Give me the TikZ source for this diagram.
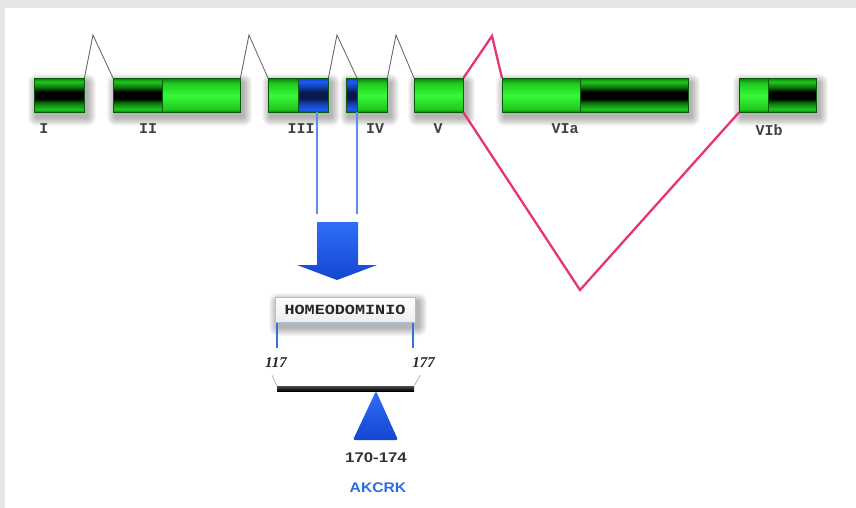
\documentclass[tikz,border=0pt]{standalone}
\usepackage{fontspec}
\setmainfont{Liberation Serif}
\newfontfamily\exfont{Liberation Mono}
\newfontfamily\boxfont{Liberation Mono}[FakeStretch=1.2]
\newfontfamily\numfont{Liberation Serif}
\newfontfamily\widefont{Liberation Sans}[FakeStretch=1.2]
\newfontfamily\seqfont{Liberation Sans}[FakeStretch=1.12]

% palette
\definecolor{gE}{HTML}{0B7A0B}
\definecolor{gL}{HTML}{1EC81E}
\definecolor{gM}{HTML}{38F838}
\definecolor{gD}{HTML}{0C7A0C}
\definecolor{bE}{HTML}{1040C0}
\definecolor{bL}{HTML}{1A5CF5}
\definecolor{bD}{HTML}{1040B0}
\definecolor{bK}{HTML}{0A1A50}
\definecolor{exedge}{HTML}{0A5A0A}
\definecolor{pinkline}{HTML}{E8337A}
\definecolor{thinblue}{HTML}{5A8CE8}
\definecolor{postblue}{HTML}{3A6FE0}
\definecolor{arrowtop}{HTML}{2F6EF5}
\definecolor{arrowbot}{HTML}{1446D0}
\definecolor{boxedge}{HTML}{A9BFE0}
\definecolor{seqblue}{HTML}{2D6BE0}
\definecolor{framegray}{HTML}{E6E6E6}

% exon fills: bright green, green with a dark core, blue with a dark core
\pgfdeclareverticalshading{shLight}{100bp}{color(0bp)=(gE); color(25bp)=(gE); color(29bp)=(gL); color(50bp)=(gM); color(68bp)=(gL); color(75bp)=(gE); color(100bp)=(gE)}
\pgfdeclareverticalshading{shDark}{100bp}{color(0bp)=(gE); color(25bp)=(gE); color(29bp)=(gL); color(38bp)=(gD); color(45bp)=(black); color(55bp)=(black); color(62bp)=(gD); color(70bp)=(gL); color(75bp)=(gE); color(100bp)=(gE)}
\pgfdeclareverticalshading{shBlue}{100bp}{color(0bp)=(bE); color(25bp)=(bE); color(29bp)=(bL); color(38bp)=(bD); color(45bp)=(bK); color(55bp)=(bK); color(62bp)=(bD); color(70bp)=(bL); color(75bp)=(bE); color(100bp)=(bE)}

% soft drop shadow: stacked translucent rectangles, offset right and down
\newcommand{\softshadow}[4]{%
  \foreach \k in {1,...,9}{%
    \fill[black, opacity=0.035, rounded corners=\k pt]
      (#1+3-\k,#2+5-\k) rectangle (#3+3+\k,#4+5+\k);
  }}

\tikzset{
  exbase/.style={rectangle, inner sep=0pt, minimum height=34pt, anchor=north west,
                 draw=exedge, line width=0.4pt},
  exlight/.style={exbase, shading=shLight},
  exdark/.style={exbase, shading=shDark},
  exblue/.style={exbase, shading=shBlue},
  exlabel/.style={font=\exfont\bfseries\fontsize{15}{15}\selectfont, text=black!75, inner sep=0pt},
  intron/.style={draw=gray!75!black, line width=0.8pt, line join=miter},
  splice/.style={draw=pinkline, line width=2.3pt, line join=miter},
  guide/.style={draw=thinblue, line width=1.4pt},
  post/.style={draw=postblue, line width=2pt},
  leader/.style={draw=gray!70, line width=0.6pt},
  hdbox/.style={rectangle, minimum width=140pt, minimum height=25pt, inner sep=0pt,
                draw=boxedge, line width=1pt, top color=white, bottom color=gray!14,
                font=\boxfont\bfseries\fontsize{14}{14}\selectfont, text=black!85},
  numlabel/.style={font=\numfont\bfseries\itshape\fontsize{15}{15}\selectfont, text=black!85, inner sep=0pt},
  poslabel/.style={font=\widefont\bfseries\fontsize{14}{14}\selectfont, text=black!80, inner sep=0pt},
  seqlabel/.style={font=\seqfont\bfseries\fontsize{14}{14}\selectfont, text=seqblue, inner sep=0pt}
}

\begin{document}
\begin{tikzpicture}[x=1pt, y=-1pt]
  % page and frame
  \fill[framegray] (0,0) rectangle (856,508);
  \fill[white] (5,8) rectangle (856,508);
  \useasboundingbox (0,0) rectangle (856,508);

  % shadows under each exon and under the domain box
  \softshadow{34}{78}{84}{112}
  \softshadow{113}{78}{240}{112}
  \softshadow{268}{78}{328}{112}
  \softshadow{346}{78}{387}{112}
  \softshadow{414}{78}{463}{112}
  \softshadow{502}{78}{688}{112}
  \softshadow{739}{78}{816}{112}
  \softshadow{275}{297}{415}{322}

  % junction peaks
  \coordinate (p1) at (93,35);
  \coordinate (p2) at (249,35);
  \coordinate (p3) at (337,35);
  \coordinate (p4) at (396,35);
  \coordinate (p5) at (492,36);
  \coordinate (v6) at (580,290);

  % exons
  \node[exdark,  minimum width=50pt]  (I)    at (34,78)  {};
  \node[exdark,  minimum width=49pt]  (IIa)  at (113,78) {};
  \node[exlight, minimum width=78pt]  (IIb)  at (162,78) {};
  \node[exlight, minimum width=30pt]  (IIIa) at (268,78) {};
  \node[exblue,  minimum width=30pt]  (IIIb) at (298,78) {};
  \node[exblue,  minimum width=11pt]  (IVa)  at (346,78) {};
  \node[exlight, minimum width=30pt]  (IVb)  at (357,78) {};
  \node[exlight, minimum width=49pt]  (V)    at (414,78) {};
  \node[exlight, minimum width=78pt]  (VIa1) at (502,78) {};
  \node[exdark,  minimum width=108pt] (VIa2) at (580,78) {};
  \node[exlight, minimum width=29pt]  (VIb1) at (739,78) {};
  \node[exdark,  minimum width=48pt]  (VIb2) at (768,78) {};

  % constitutive splicing
  \draw[intron] (I.north east) -- (p1) -- (IIa.north west);
  \draw[intron] (IIb.north east) -- (p2) -- (IIIa.north west);
  \draw[intron] (IIIb.north east) -- (p3) -- (IVb.north west);
  \draw[intron] (IVb.north east) -- (p4) -- (V.north west);

  % alternative splicing of exon VI
  \draw[splice] (V.north east) -- (p5) -- (VIa1.north west);
  \draw[splice] (V.south east) -- (v6) -- (VIb1.south west);

  % exon names
  \node[exlabel] (lI)   at (44,129)  {I};
  \node[exlabel] (lII)  at (148,129) {II};
  \node[exlabel] (lIII) at (301,129) {III};
  \node[exlabel] (lIV)  at (375,129) {IV};
  \node[exlabel] (lV)   at (438,129) {V};
  \node[exlabel] (lVIa) at (565,129) {VIa};
  \node[exlabel] (lVIb) at (769,130) {VIb};

  % homeodomain-coding region guides
  \coordinate (g1) at (317,214);
  \coordinate (g2) at (357,214);
  \draw[guide] (IIIb.south -| g1) -- (g1);
  \draw[guide] (IVa.south -| g2) -- (g2);

  % block arrow
  \shade[top color=arrowtop, bottom color=arrowbot]
    (317,222) -- (358,222) -- (358,265) -- (377,265) -- (337,280)
    -- (297,265) -- (317,265) -- cycle;

  % homeodomain box and its limits
  \node[hdbox] (hd) at (345,309.5) {HOMEODOMINIO};
  \coordinate (pL) at (277,348);
  \coordinate (pR) at (413,348);
  \draw[post] (hd.south -| pL) -- (pL);
  \draw[post] (hd.south -| pR) -- (pR);

  \node[numlabel] (n117) at (276,363) {117};
  \node[numlabel] (n177) at (423.5,363) {177};

  % protein segment
  \node[rectangle, inner sep=0pt, minimum width=137pt, minimum height=5pt,
        top color=black!70, bottom color=black, draw=none] (bar) at (345.5,388.5) {};
  \draw[leader] (n117.south) ++(-4,7) -- (bar.north west);
  \draw[leader] (n177.south) ++(-3,7) -- (bar.north east);

  % motif marker
  \shade[top color=arrowtop, bottom color=arrowbot, rounded corners=1.5pt]
    (376,391) -- (398,440) -- (353,440) -- cycle;

  \node[poslabel] (pos) at (376,458) {170-174};
  \node[seqlabel] (seq) at (378,488) {AKCRK};
\end{tikzpicture}
\end{document}
